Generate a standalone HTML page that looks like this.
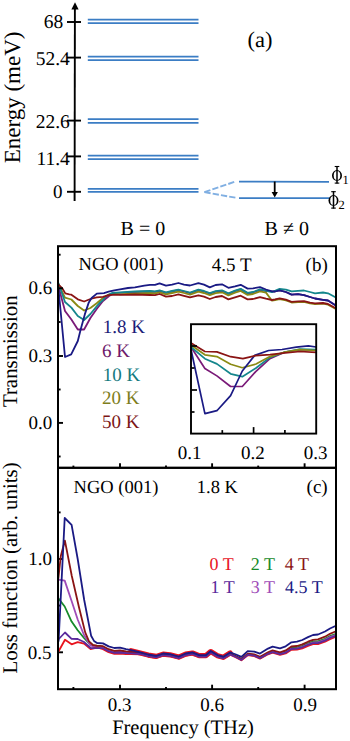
<!DOCTYPE html>
<html><head><meta charset="utf-8"><title>Figure</title>
<style>
html,body{margin:0;padding:0;background:#fff;}
body{width:350px;height:741px;overflow:hidden;}
svg{display:block;font-family:"Liberation Serif",serif;text-rendering:geometricPrecision;}
</style></head>
<body>
<svg width="350" height="741" viewBox="0 0 350 741">
<rect width="350" height="741" fill="#fff"/>
<line x1="74.6" y1="201" x2="74.9" y2="8" stroke="#000" stroke-width="1.9"/>
<polygon points="75,2.2 71.4,9.5 78.6,9.5" fill="#000"/>
<line x1="67" y1="22.0" x2="81" y2="22.0" stroke="#000" stroke-width="1.9"/>
<line x1="67" y1="57.6" x2="81" y2="57.6" stroke="#000" stroke-width="1.9"/>
<line x1="67" y1="120.6" x2="81" y2="120.6" stroke="#000" stroke-width="1.9"/>
<line x1="67" y1="156.4" x2="81" y2="156.4" stroke="#000" stroke-width="1.9"/>
<line x1="67" y1="191.8" x2="81" y2="191.8" stroke="#000" stroke-width="1.9"/>
<line x1="87.8" y1="19.5" x2="198.5" y2="19.5" stroke="#3b7dc4" stroke-width="1.75"/>
<line x1="87.8" y1="23.1" x2="198.5" y2="23.1" stroke="#3b7dc4" stroke-width="1.75"/>
<line x1="87.8" y1="56.7" x2="198.5" y2="56.7" stroke="#3b7dc4" stroke-width="1.75"/>
<line x1="87.8" y1="60.1" x2="198.5" y2="60.1" stroke="#3b7dc4" stroke-width="1.75"/>
<line x1="87.8" y1="119.1" x2="198.5" y2="119.1" stroke="#3b7dc4" stroke-width="1.75"/>
<line x1="87.8" y1="122.9" x2="198.5" y2="122.9" stroke="#3b7dc4" stroke-width="1.75"/>
<line x1="87.8" y1="155.5" x2="198.5" y2="155.5" stroke="#3b7dc4" stroke-width="1.75"/>
<line x1="87.8" y1="159.0" x2="198.5" y2="159.0" stroke="#3b7dc4" stroke-width="1.75"/>
<line x1="87.8" y1="188.9" x2="198.5" y2="188.9" stroke="#3b7dc4" stroke-width="1.75"/>
<line x1="87.8" y1="191.9" x2="198.5" y2="191.9" stroke="#3b7dc4" stroke-width="1.75"/>
<text x="63.2" y="28.2" font-size="19.5" fill="#000" text-anchor="end" >68</text>
<text x="69.8" y="64.6" font-size="19.5" fill="#000" text-anchor="end" >52.4</text>
<text x="69.8" y="128.0" font-size="19.5" fill="#000" text-anchor="end" >22.6</text>
<text x="69.8" y="164.5" font-size="19.5" fill="#000" text-anchor="end" >11.4</text>
<text x="62.5" y="198.0" font-size="19" fill="#000" text-anchor="end" >0</text>
<line x1="204.4" y1="192.1" x2="236.2" y2="181.3" stroke="#80afe2" stroke-width="1.9" stroke-dasharray="6.3,2.1"/>
<line x1="204.4" y1="192.1" x2="236.6" y2="197.9" stroke="#80afe2" stroke-width="1.9" stroke-dasharray="6.3,2.1"/>
<line x1="239" y1="181.7" x2="329" y2="181.8" stroke="#3b7dc4" stroke-width="1.75"/>
<line x1="239" y1="198.0" x2="331" y2="198.1" stroke="#3b7dc4" stroke-width="1.75"/>
<line x1="274.7" y1="181.5" x2="274.7" y2="193" stroke="#000" stroke-width="1.8"/>
<polygon points="271.6,192 277.9,192 274.7,197.5" fill="#000"/>
<ellipse cx="337.0" cy="175.4" rx="5.0" ry="5.3" fill="#000"/>
<ellipse cx="337.0" cy="175.4" rx="3.3" ry="4.5" fill="#fff"/>
<line x1="337.0" y1="166.0" x2="337.0" y2="183.6" stroke="#000" stroke-width="1.5"/>
<line x1="334.7" y1="166.5" x2="339.3" y2="166.5" stroke="#000" stroke-width="1.1"/>
<line x1="334.7" y1="183.1" x2="339.3" y2="183.1" stroke="#000" stroke-width="1.1"/>
<ellipse cx="333.5" cy="200.4" rx="5.0" ry="5.3" fill="#000"/>
<ellipse cx="333.5" cy="200.4" rx="3.3" ry="4.5" fill="#fff"/>
<line x1="333.5" y1="191.2" x2="333.5" y2="208.6" stroke="#000" stroke-width="1.5"/>
<line x1="331.2" y1="191.7" x2="335.8" y2="191.7" stroke="#000" stroke-width="1.1"/>
<line x1="331.2" y1="208.1" x2="335.8" y2="208.1" stroke="#000" stroke-width="1.1"/>
<text x="342.6" y="184.0" font-size="12.5" fill="#000" text-anchor="start" >1</text>
<text x="338.6" y="208.8" font-size="12.5" fill="#000" text-anchor="start" >2</text>
<text x="247.6" y="46.5" font-size="22.5" fill="#000" text-anchor="start" >(a)</text>
<text x="120.6" y="234.7" font-size="20" fill="#000" text-anchor="start" >B = 0</text>
<text x="264.6" y="234.7" font-size="20" fill="#000" text-anchor="start" >B &#8800; 0</text>
<text transform="translate(20,97.4) rotate(-90)" font-size="23" text-anchor="middle">Energy (meV)</text>
<polyline points="58.5,286.5 65.0,311.0 71.4,319.5 77.8,329.5 84.1,329.5 90.4,318.0 96.7,309.0 103.0,301.0 109.0,296.0 115.0,293.0 120.0,292.8 134.9,292.0 150.0,291.5 155.0,291.9 159.6,290.8 166.0,292.8 172.0,291.5 178.4,290.1 184.0,291.5 190.0,293.1 198.4,290.2 204.0,291.5 209.8,293.7 215.6,291.6 222.0,290.8 228.4,293.9 235.0,291.1 240.7,289.4 247.6,293.4 253.0,292.5 260.0,289.9 266.0,291.1 272.0,291.3 275.0,291.5 279.6,290.3 285.9,292.0 291.6,294.6 298.0,294.2 304.0,295.2 310.0,297.0 315.0,298.5 323.0,299.8 328.0,300.5 335.4,305.3" fill="none" stroke="#7a1a78" stroke-width="1.8" stroke-linejoin="round" stroke-linecap="round" />
<polyline points="58.5,284.2 65.0,297.7 71.4,299.5 77.8,306.0 84.1,310.5 90.4,308.0 96.7,303.3 103.0,298.0 109.0,294.5 115.0,293.4 120.0,294.3 134.9,293.5 150.0,293.0 155.0,293.4 159.6,292.3 166.0,294.3 172.0,293.0 178.4,291.6 184.0,293.0 190.0,294.6 198.4,291.7 204.0,293.0 209.8,295.2 215.6,293.1 222.0,292.3 228.4,295.4 235.0,292.6 240.7,290.9 247.6,294.9 253.0,294.0 260.0,291.4 266.0,292.6 272.0,300.7 275.0,300.1 279.6,299.0 285.9,300.4 291.6,302.5 298.0,302.0 304.0,301.8 310.0,303.3 315.0,304.1 323.0,303.7 328.0,304.7 335.4,308.7" fill="none" stroke="#8a8a14" stroke-width="1.8" stroke-linejoin="round" stroke-linecap="round" />
<polyline points="58.5,283.2 65.0,302.0 71.4,307.6 77.8,316.0 84.1,320.0 90.4,314.0 96.7,306.4 100.0,302.6 103.0,300.0 106.3,296.0 112.0,293.0 120.0,292.3 134.9,291.5 150.0,291.0 155.0,291.4 159.6,290.3 166.0,292.3 172.0,291.0 178.4,289.6 184.0,291.0 190.0,292.6 198.4,289.7 204.0,291.0 209.8,293.2 215.6,291.1 222.0,290.3 228.4,293.4 235.0,290.6 240.7,288.9 247.6,292.9 253.0,292.0 260.0,289.4 266.0,290.6 272.0,292.2 275.0,290.8 279.6,288.9 285.9,289.6 291.6,291.4 298.0,290.9 304.0,290.5 310.0,292.0 315.0,293.3 323.0,292.5 328.0,293.3 335.4,297.2" fill="none" stroke="#14868c" stroke-width="1.8" stroke-linejoin="round" stroke-linecap="round" />
<polyline points="58.5,284.6 62.4,288.4 65.3,293.4 69.3,294.3 71.4,294.7 77.8,299.3 84.1,301.5 90.4,299.0 96.7,297.4 103.0,296.9 108.6,295.1 114.3,294.6 120.0,294.9 135.0,294.5 150.0,295.0 155.0,295.2 159.6,294.0 166.0,296.6 172.0,296.0 178.4,294.3 184.0,295.8 190.0,297.4 198.4,295.4 204.0,296.6 209.8,299.0 215.6,297.0 222.0,296.0 228.4,299.4 235.0,297.4 240.7,295.7 247.6,299.4 253.0,299.0 260.0,297.2 266.0,298.7 272.0,300.0 275.0,299.4 279.6,298.3 285.9,299.7 291.6,301.8 298.0,301.3 304.0,301.1 310.0,302.6 315.0,303.4 323.0,303.0 328.0,304.0 335.4,308.0" fill="none" stroke="#8a1414" stroke-width="1.8" stroke-linejoin="round" stroke-linecap="round" />
<polyline points="58.5,289.0 65.0,357.0 71.2,354.3 77.8,341.0 80.8,329.0 84.8,314.4 88.8,302.4 91.6,298.0 96.8,293.6 104.0,293.1 108.6,291.6 114.3,290.3 120.0,289.3 128.0,288.0 134.9,287.3 144.3,285.6 150.0,284.8 155.0,284.9 159.6,283.4 166.0,285.7 172.0,284.6 178.4,283.0 184.0,284.6 190.0,285.5 198.4,283.1 204.0,284.6 209.8,287.4 215.6,285.0 222.0,284.3 228.4,287.8 235.0,286.3 240.7,284.8 247.6,288.6 253.0,288.3 260.0,287.2 266.0,289.5 272.0,291.3 275.0,291.5 279.6,290.3 285.9,292.0 291.6,294.6 298.0,294.2 304.0,295.2 310.0,297.0 315.0,298.5 323.0,299.8 328.0,300.5 335.4,305.3" fill="none" stroke="#1a1a84" stroke-width="1.8" stroke-linejoin="round" stroke-linecap="round" />
<rect x="191.0" y="324.2" width="125.19999999999999" height="109.40000000000003" fill="#fff"/>
<polyline points="191.0,347.0 204.9,368.5 216.9,375.9 230.6,386.5 242.3,386.5 255.7,371.6 269.9,358.7 285.0,352.0 300.0,350.0 316.0,350.0" fill="none" stroke="#7a1a78" stroke-width="1.7" stroke-linejoin="round" stroke-linecap="round" />
<polyline points="191.0,347.0 204.9,358.7 216.9,363.9 230.6,373.8 242.3,376.7 255.7,368.2 270.0,357.4 285.0,352.0 300.0,349.0 316.0,349.5" fill="none" stroke="#14868c" stroke-width="1.7" stroke-linejoin="round" stroke-linecap="round" />
<polyline points="191.0,345.0 204.9,354.8 216.9,356.6 230.6,364.2 242.3,367.7 256.0,364.0 269.9,356.6 285.0,352.0 299.4,349.7 316.0,350.5" fill="none" stroke="#8a8a14" stroke-width="1.7" stroke-linejoin="round" stroke-linecap="round" />
<polyline points="191.1,350.0 204.9,413.6 216.9,410.7 230.6,395.6 242.3,371.0 254.7,355.4 268.6,350.5 282.0,349.5 296.3,347.1 308.4,345.9 316.0,347.0" fill="none" stroke="#1a1a84" stroke-width="1.7" stroke-linejoin="round" stroke-linecap="round" />
<polyline points="191.0,343.0 204.9,351.5 216.9,351.9 230.6,356.7 242.9,358.7 255.7,355.6 270.0,354.6 285.3,352.8 300.0,351.5 316.0,352.3" fill="none" stroke="#8a1414" stroke-width="1.7" stroke-linejoin="round" stroke-linecap="round" />
<rect x="191.0" y="324.2" width="125.19999999999999" height="109.40000000000003" fill="none" stroke="#000" stroke-width="1.9"/>
<line x1="191.0" y1="346" x2="197.0" y2="346" stroke="#000" stroke-width="1.7"/>
<line x1="191.0" y1="368" x2="194.5" y2="368" stroke="#000" stroke-width="1.7"/>
<line x1="191.0" y1="390" x2="197.0" y2="390" stroke="#000" stroke-width="1.7"/>
<line x1="191.0" y1="412" x2="194.5" y2="412" stroke="#000" stroke-width="1.7"/>
<line x1="222.3" y1="433.6" x2="222.3" y2="430.1" stroke="#000" stroke-width="1.7"/>
<line x1="253.6" y1="433.6" x2="253.6" y2="427.1" stroke="#000" stroke-width="1.7"/>
<line x1="284.9" y1="433.6" x2="284.9" y2="430.1" stroke="#000" stroke-width="1.7"/>
<text x="189.5" y="458.6" font-size="19" fill="#000" text-anchor="middle" >0.1</text>
<text x="252.8" y="458.6" font-size="19" fill="#000" text-anchor="middle" >0.2</text>
<text x="315.6" y="458.6" font-size="19" fill="#000" text-anchor="middle" >0.3</text>
<rect x="58.0" y="246.2" width="278.0" height="221.60000000000002" fill="none" stroke="#000" stroke-width="2"/>
<line x1="58.0" y1="254.7" x2="60.6" y2="254.7" stroke="#000" stroke-width="1.9"/>
<line x1="58.0" y1="288.3" x2="63.0" y2="288.3" stroke="#000" stroke-width="1.9"/>
<line x1="58.0" y1="322" x2="60.6" y2="322" stroke="#000" stroke-width="1.9"/>
<line x1="58.0" y1="356" x2="63.0" y2="356" stroke="#000" stroke-width="1.9"/>
<line x1="58.0" y1="389.5" x2="60.6" y2="389.5" stroke="#000" stroke-width="1.9"/>
<line x1="58.0" y1="422.9" x2="63.0" y2="422.9" stroke="#000" stroke-width="1.9"/>
<line x1="58.0" y1="456.5" x2="60.6" y2="456.5" stroke="#000" stroke-width="1.9"/>
<line x1="73.4" y1="467.8" x2="73.4" y2="465.6" stroke="#000" stroke-width="1.9"/>
<line x1="120.0" y1="467.8" x2="120.0" y2="463.3" stroke="#000" stroke-width="1.9"/>
<line x1="166.0" y1="467.8" x2="166.0" y2="465.6" stroke="#000" stroke-width="1.9"/>
<line x1="212.1" y1="467.8" x2="212.1" y2="463.3" stroke="#000" stroke-width="1.9"/>
<line x1="258.2" y1="467.8" x2="258.2" y2="465.6" stroke="#000" stroke-width="1.9"/>
<line x1="304.6" y1="467.8" x2="304.6" y2="463.3" stroke="#000" stroke-width="1.9"/>
<text x="52.3" y="294.0" font-size="19" fill="#000" text-anchor="end" >0.6</text>
<text x="52.3" y="361.6" font-size="19" fill="#000" text-anchor="end" >0.3</text>
<text x="52.3" y="428.6" font-size="19" fill="#000" text-anchor="end" >0.0</text>
<text transform="translate(17.3,351.2) rotate(-90)" font-size="20.9" text-anchor="middle">Transmission</text>
<text x="78.6" y="270.4" font-size="18.5" fill="#000" text-anchor="start" >NGO (001)</text>
<text x="211.8" y="270.6" font-size="19" fill="#000" text-anchor="start" >4.5 T</text>
<text x="305.6" y="270.6" font-size="19" fill="#000" text-anchor="start" >(b)</text>
<text x="102.8" y="333.4" font-size="19" fill="#1c1c78" text-anchor="start" >1.8 K</text>
<text x="102.0" y="357.04999999999995" font-size="19" fill="#6e1a6a" text-anchor="start" >6 K</text>
<text x="102.8" y="380.7" font-size="19" fill="#167a80" text-anchor="start" >10 K</text>
<text x="102.0" y="404.34999999999997" font-size="19" fill="#7e7e1c" text-anchor="start" >20 K</text>
<text x="102.0" y="428.0" font-size="19" fill="#7c1616" text-anchor="start" >50 K</text>
<line x1="58.0" y1="512.4" x2="60.6" y2="512.4" stroke="#000" stroke-width="1.9"/>
<line x1="58.0" y1="559.0" x2="63.0" y2="559.0" stroke="#000" stroke-width="1.9"/>
<line x1="58.0" y1="605.6" x2="60.6" y2="605.6" stroke="#000" stroke-width="1.9"/>
<line x1="58.0" y1="652.3" x2="63.0" y2="652.3" stroke="#000" stroke-width="1.9"/>
<polyline points="131.1,650.7 140.3,653.0 148.3,655.1 156.3,656.4 163.1,654.1 170.0,654.8 178.7,657.1 185.6,654.1 192.4,653.0 199.3,655.7 206.0,655.6 210.7,651.6 217.6,655.7 223.3,657.3 230.1,653.0" fill="none" stroke="#e8141e" stroke-width="5.2" stroke-linejoin="round" stroke-linecap="round" />
<polyline points="58.0,597.9 64.7,606.5 71.6,621.6 77.7,630.3 84.0,638.0 90.6,645.0 96.9,647.0 103.0,647.4 108.6,650.4 114.3,652.0 120.0,651.7 126.0,652.5 131.1,652.7 140.3,653.6 148.3,655.7 156.3,657.0 163.1,654.7 170.0,655.4 178.7,657.7 185.6,654.7 192.4,653.6 199.3,656.3 206.0,656.2 210.7,652.2 217.6,656.3 223.3,657.9 230.1,654.0 236.0,656.5 241.4,659.4 247.7,654.1 254.3,655.0 260.0,657.5 268.0,653.1 272.6,651.3 280.0,653.3 285.7,651.5 291.4,647.7 297.0,647.4 302.3,645.9 308.0,643.3 313.0,641.5 318.0,641.4 325.0,638.8 330.0,636.1 335.4,634.0" fill="none" stroke="#168a2a" stroke-width="1.8" stroke-linejoin="round" stroke-linecap="round" />
<polyline points="58.0,579.5 64.7,580.6 71.6,601.0 77.7,619.5 84.0,635.0 90.6,645.4 96.9,647.6 103.0,647.7 108.6,650.7 114.3,652.3 120.0,652.0 126.0,652.8 131.1,652.9 140.3,653.8 148.3,655.9 156.3,657.2 163.1,654.9 170.0,655.6 178.7,657.9 185.6,654.9 192.4,653.8 199.3,656.5 206.0,656.4 210.7,652.4 217.6,656.5 223.3,658.1 230.1,654.2 236.0,656.8 241.4,659.7 247.7,654.5 254.3,655.5 260.0,657.9 268.0,653.6 272.6,651.8 280.0,653.9 285.7,652.3 291.4,648.6 297.0,648.3 302.3,646.9 308.0,644.3 313.0,642.5 318.0,642.4 325.0,639.8 330.0,637.1 335.4,635.0" fill="none" stroke="#a04cb8" stroke-width="1.8" stroke-linejoin="round" stroke-linecap="round" />
<polyline points="58.2,652.0 65.0,639.8 71.6,644.3 77.7,642.2 84.0,643.6 90.6,649.0 96.9,647.5 103.0,649.2 108.6,652.2 114.3,653.8 120.0,653.5 126.0,654.1 131.1,654.0 140.3,654.4 148.3,656.5 156.3,657.8 163.1,655.5 170.0,656.2 178.7,658.5 185.6,655.5 192.4,654.4 199.3,657.1 206.0,657.0 210.7,653.0 217.6,657.1 223.3,658.7 230.1,654.8 236.0,657.4 241.4,660.3 247.7,655.2 254.3,656.1 260.0,658.6 268.0,654.3 272.6,652.7 280.0,654.9 285.7,653.4 291.4,649.8 297.0,649.7 302.3,648.4 308.0,645.9 313.0,644.2 318.0,644.1 325.0,641.7 330.0,639.1 335.4,637.0" fill="none" stroke="#e8141e" stroke-width="1.8" stroke-linejoin="round" stroke-linecap="round" />
<polyline points="58.4,578.0 60.8,556.0 64.9,540.6 71.8,576.0 78.8,606.5 85.2,632.4 89.0,641.4 93.0,645.0 97.0,645.7 103.0,646.2 108.6,649.2 114.3,650.8 120.0,650.5 126.0,651.5 131.1,652.0 140.3,653.4 148.3,655.5 156.3,656.8 163.1,654.5 170.0,655.2 178.7,657.5 185.6,654.5 192.4,653.4 199.3,656.1 206.0,656.0 210.7,652.0 217.6,656.1 223.3,657.7 230.1,653.7 236.0,656.2 241.4,658.9 247.7,653.6 254.3,654.4 260.0,656.8 268.0,652.3 272.6,650.4 280.0,652.3 285.7,650.4 291.4,646.5 297.0,646.0 302.3,644.4 308.0,641.7 313.0,639.8 318.0,639.4 325.0,636.7 330.0,633.8 335.4,631.5" fill="none" stroke="#8a1414" stroke-width="1.8" stroke-linejoin="round" stroke-linecap="round" />
<polyline points="58.3,639.5 65.0,632.5 71.6,638.9 77.7,639.0 84.0,642.0 90.6,648.0 96.9,648.2 103.0,648.2 108.6,651.2 114.3,652.8 120.0,652.5 126.0,653.2 131.1,653.3 140.3,654.0 148.3,656.1 156.3,657.4 163.1,655.1 170.0,655.8 178.7,658.1 185.6,655.1 192.4,654.0 199.3,656.7 206.0,656.6 210.7,652.6 217.6,656.7 223.3,658.3 230.1,654.4 236.0,657.0 241.4,659.9 247.7,654.7 254.3,655.7 260.0,658.1 268.0,653.8 272.6,652.1 280.0,654.2 285.7,652.6 291.4,649.0 297.0,648.7 302.3,647.3 308.0,644.8 313.0,643.2 318.0,643.1 325.0,640.6 330.0,638.0 335.4,636.0" fill="none" stroke="#5a2a9c" stroke-width="1.8" stroke-linejoin="round" stroke-linecap="round" />
<polyline points="58.6,641.0 64.7,518.0 71.6,524.9 77.7,559.0 84.2,600.0 91.1,635.7 94.0,640.9 97.0,643.0 103.0,643.4 108.6,646.4 114.3,648.0 120.0,647.7 126.0,649.1 131.1,650.1 140.3,652.4 148.3,654.5 156.3,655.8 163.1,653.5 170.0,654.2 178.7,656.5 185.6,653.5 192.4,652.4 199.3,655.1 206.0,655.0 210.7,651.0 217.6,655.1 223.3,656.7 230.1,652.4 236.0,654.5 241.4,656.9 247.7,651.2 254.3,651.6 260.0,653.6 268.0,648.6 272.6,646.6 280.0,648.3 285.7,646.3 291.4,642.3 297.0,641.7 302.3,640.0 308.0,637.1 313.0,635.0 318.0,634.5 325.0,631.5 330.0,628.5 335.4,626.0" fill="none" stroke="#1a1a84" stroke-width="1.8" stroke-linejoin="round" stroke-linecap="round" />
<rect x="58.0" y="467.8" width="278.0" height="221.40000000000003" fill="none" stroke="#000" stroke-width="2"/>
<line x1="73.4" y1="689.2" x2="73.4" y2="687.0" stroke="#000" stroke-width="1.9"/>
<line x1="120.0" y1="689.2" x2="120.0" y2="684.7" stroke="#000" stroke-width="1.9"/>
<line x1="166.0" y1="689.2" x2="166.0" y2="687.0" stroke="#000" stroke-width="1.9"/>
<line x1="212.1" y1="689.2" x2="212.1" y2="684.7" stroke="#000" stroke-width="1.9"/>
<line x1="258.2" y1="689.2" x2="258.2" y2="687.0" stroke="#000" stroke-width="1.9"/>
<line x1="304.6" y1="689.2" x2="304.6" y2="684.7" stroke="#000" stroke-width="1.9"/>
<text x="52.0" y="565.4" font-size="19" fill="#000" text-anchor="end" >1.0</text>
<text x="51.6" y="658.6" font-size="19" fill="#000" text-anchor="end" >0.5</text>
<text x="119.5" y="711.2" font-size="19" fill="#000" text-anchor="middle" >0.3</text>
<text x="212.1" y="711.2" font-size="19" fill="#000" text-anchor="middle" >0.6</text>
<text x="305.2" y="711.2" font-size="19" fill="#000" text-anchor="middle" >0.9</text>
<text x="183.0" y="733.6" font-size="20.5" fill="#000" text-anchor="middle" >Frequency (THz)</text>
<text transform="translate(16.9,567.9) rotate(-90)" font-size="20.9" text-anchor="middle">Loss function (arb. units)</text>
<text x="73.6" y="492.6" font-size="18.5" fill="#000" text-anchor="start" >NGO (001)</text>
<text x="196.8" y="492.6" font-size="18.5" fill="#000" text-anchor="start" >1.8 K</text>
<text x="306.6" y="493.0" font-size="19" fill="#000" text-anchor="start" >(c)</text>
<text x="209.5" y="570.4" font-size="18" fill="#e8141e" text-anchor="start" >0 T</text>
<text x="250.8" y="570.4" font-size="18" fill="#168a2a" text-anchor="start" >2 T</text>
<text x="284.8" y="570.4" font-size="18" fill="#8a1414" text-anchor="start" >4 T</text>
<text x="210.5" y="592.7" font-size="18" fill="#5a2a9c" text-anchor="start" >1 T</text>
<text x="250.8" y="592.7" font-size="18" fill="#a04cb8" text-anchor="start" >3 T</text>
<text x="285.0" y="592.7" font-size="18" fill="#1a1a84" text-anchor="start" >4.5 T</text>
</svg>
</body></html>
